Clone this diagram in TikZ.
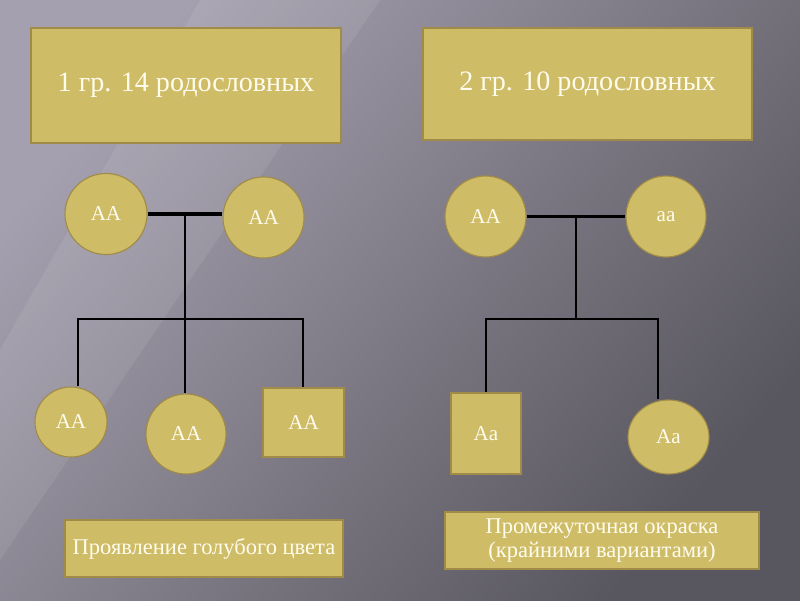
\documentclass[tikz,border=0pt]{standalone}
\usepackage{fontspec}
\setmainfont{Liberation Serif}
\usetikzlibrary{shapes.geometric,calc}
\definecolor{goldfill}{RGB}{206,188,103}
\definecolor{goldline}{RGB}{160,140,72}
\definecolor{creamtext}{RGB}{255,252,238}
\definecolor{bglight}{RGB}{165,160,175}
\definecolor{bgdark}{RGB}{88,86,94}

\begin{document}
\begin{tikzpicture}[x=0.025cm, y=-0.025cm,
      card/.style={draw=goldline, line width=0.8pt, fill=goldfill,
                   text=creamtext, align=center, inner sep=0pt},
      fem/.style={card, ellipse, font=\fontsize{15}{17}\selectfont},
      male/.style={card, rectangle, font=\fontsize{15}{17}\selectfont},
      kin/.style={black, line width=1.3pt},
      mate/.style={black, line width=2.4pt}
    ]
    % background
    \useasboundingbox (0,0) rectangle (800,600);
    \shade[top color=bglight, bottom color=bgdark, shading angle=50]
          (0,0) rectangle (800,600);
    \fill[white, opacity=0.08] (200,0) -- (380,0) -- (0,560) -- (0,350) -- cycle;

    % headings
    \node[card, minimum width=7.75cm, minimum height=2.875cm,
          font=\fontsize{20}{24}\selectfont] (g1) at (186,85.5)
          {1 гр. 14 родословных};
    \node[card, minimum width=8.225cm, minimum height=2.8cm,
          font=\fontsize{20}{24}\selectfont] (g2) at (587.5,84)
          {2 гр. 10 родословных};

    % first family
    \node[fem, minimum width=2.05cm, minimum height=2.025cm] (p1) at (106,214) {AA};
    \node[fem, minimum width=2.025cm, minimum height=2.025cm] (p2) at (263.5,217.5) {AA};
    \node[fem, minimum width=1.8cm, minimum height=1.75cm] (c1) at (71,422) {AA};
    \node[fem, minimum width=2.0cm, minimum height=2.0cm] (c2) at (186,434) {AA};
    \node[male, minimum width=2.025cm, minimum height=1.725cm] (c3) at (303.5,422.5) {AA};

    \coordinate (s1) at ($(p1.east)!0.5!(p2.west)$);
    \draw[mate] (p1.east) -- (p2.west |- p1.east);
    \coordinate (l1) at (78,319);
    \coordinate (r1) at (303,319);
    \draw[kin] (s1) -- (s1 |- c2.north);
    \draw[kin] (l1 |- c1.north) -- (l1) -- (r1) -- (r1 |- c3.north);

    % second family
    \node[fem, minimum width=2.025cm, minimum height=2.025cm] (q1) at (485.5,216.5) {AA};
    \node[fem, minimum width=2.0cm, minimum height=2.025cm] (q2) at (666,216.5) {aa};
    \node[male, minimum width=1.75cm, minimum height=2.025cm] (d1) at (486,433.5) {Aa};
    \node[fem, minimum width=2.025cm, minimum height=1.85cm] (d2) at (668.5,437) {Aa};

    \coordinate (s2) at ($(q1.east)!0.5!(q2.west)$);
    \draw[mate] (q1.east) -- (q2.west);
    \coordinate (l2) at (486,319);
    \coordinate (r2) at (658,319);
    \draw[kin] (s2) -- (s2 |- l2);
    \draw[kin] (l2 |- d1.north) -- (l2) -- (r2) -- (r2 |- d2.north);

    % results
    \node[card, minimum width=6.95cm, minimum height=1.425cm,
          font=\fontsize{16}{18}\selectfont] (n1) at (204,548.5)
          {Проявление голубого цвета};
    \node[card, minimum width=7.85cm, minimum height=1.425cm,
          font=\fontsize{16}{17.7}\selectfont] (n2) at (602,540.5)
          {Промежуточная окраска\\(крайними вариантами)};
  \end{tikzpicture}
\end{document}
